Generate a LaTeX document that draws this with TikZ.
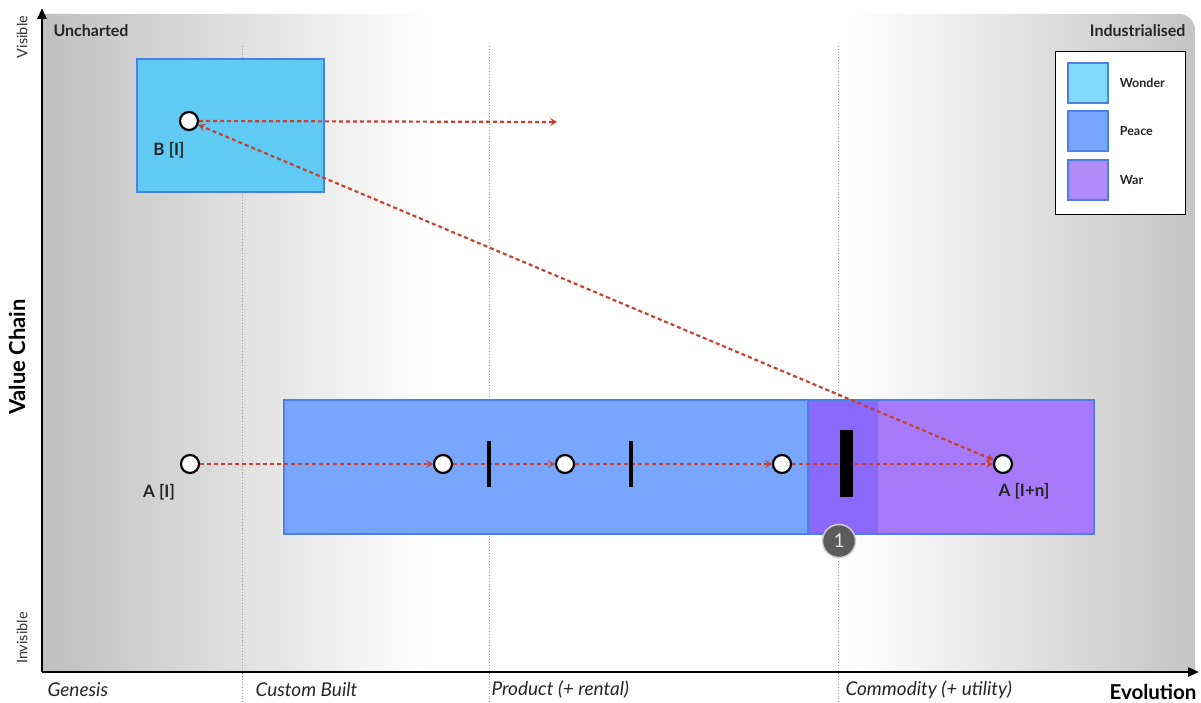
\documentclass[tikz,border=0pt]{standalone}
\usepackage{fontspec}
\setmainfont{Lato}
\usetikzlibrary{arrows.meta,positioning,calc}
\definecolor{wonder}{HTML}{5FCBF5}
\definecolor{wonderkey}{HTML}{82DBFC}
\definecolor{peace}{HTML}{78A6FC}
\definecolor{war}{HTML}{A67AFB}
\definecolor{warkey}{HTML}{B18AFA}
\definecolor{clash}{HTML}{8A68FB}
\definecolor{rim}{HTML}{4D80E4}
\definecolor{flowred}{HTML}{C8412F}
\tikzset{
  comp/.style={circle, draw, line width=2.2pt, minimum size=18pt, inner sep=0pt, fill=white},
  zone/.style={draw=rim, line width=2.5pt},
  key/.style={draw=rim, line width=2.5pt, minimum width=40pt, minimum height=40pt, inner sep=0pt},
  flow/.style={->, flowred, dash pattern=on 4pt off 3pt, line width=2.2pt},
  bar/.style={fill=black, inner sep=0pt, minimum width=4.5pt, minimum height=46pt},
  lbl/.style={font=\fontsize{17}{19}\selectfont\bfseries, text=black!85},
  keylbl/.style={font=\fontsize{12.5}{14}\selectfont\bfseries, text=black!85},
  stage/.style={font=\fontsize{19}{21}\selectfont\itshape, anchor=west, text=black!85},
  grid/.style={gray!75, dotted, line width=0.8pt},
  >={Stealth[length=7pt,width=8pt,inset=3pt]}
}

\begin{document}
\begin{tikzpicture}[x=1pt,y=-1pt]
  \useasboundingbox (0,0) rectangle (1201,703);
  % background of the map
  \begin{scope}
    \clip[rounded corners=16pt] (-100,14) rectangle (1195,800);
    \shade[left color=black!25, right color=white] (42,14) rectangle (430,672);
    \shade[left color=white, right color=black!23] (850,14) rectangle (1195,672);
  \end{scope}
  % stage boundaries
  \foreach \gx in {242,489,838} { \draw[grid] (\gx,46) -- (\gx,703); }
  % axes
  \coordinate (O) at (42,672);
  \coordinate (ytop) at (42,8);
  \coordinate (xend) at (1199,672);
  \draw[line width=2.5pt,-{Triangle[length=11pt,width=9pt]}] (O) -- (ytop);
  \draw[line width=2.5pt,-{Triangle[length=11pt,width=9pt]}] (O) -- (xend);
  \node[anchor=west,font=\fontsize{16}{18}\selectfont\bfseries,text=black!85] (unch) at (50,31) {Uncharted};
  \node[anchor=east,font=\fontsize{16}{18}\selectfont\bfseries,text=black!85] (indu) at (1189,31) {Industrialised};
  \node[rotate=90,font=\fontsize{14.5}{16}\selectfont,text=black!80] (vis) at (22,37) {Visible};
  \node[rotate=90,font=\fontsize{14.5}{16}\selectfont,text=black!80] (invis) at (22,638) {Invisible};
  \node[rotate=90,font=\fontsize{22}{24}\selectfont\bfseries] (vchain) at (17,357) {Value Chain};
  \node[stage] (genesis) at (44,690) {Genesis};
  \node[stage] (custom) at (252,690) {Custom Built};
  \node[stage] (product) at (488,690) {Product (+ rental)};
  \node[stage] (commod) at (842,690) {Commodity (+ utility)};
  \node[anchor=east,font=\fontsize{20.5}{22}\selectfont\bfseries] (evol) at (1200,692) {Evolution};
  % zones
  \draw[zone,fill=wonder] (137,59) rectangle (324,192);
  \fill[peace] (284,400) rectangle (808,534);
  \fill[war] (808,400) rectangle (1094,534);
  \fill[clash] (808,400) rectangle (878,534);
  \draw[zone] (284,400) rectangle (1094,534);
  \draw[zone] (808,400) -- (808,534);
  % components
  \node[comp] (b) at (189,121) {};
  \node[comp] (a0) at (190,464) {};
  \node[comp] (a1) at (443,464) {};
  \node[comp] (a2) at (565,464) {};
  \node[comp] (a3) at (782,464) {};
  \node[comp] (an) at (1003,464) {};
  \node[lbl] at ($(b)+(-20,29)$) {B [I]};
  \node[lbl] at ($(a0)+(-31,28)$) {A [I]};
  \node[lbl] at ($(an)+(21,27)$) {A [I+n]};
  % movement
  \coordinate (bend) at (557,122);
  \draw[flow] (b) -- (bend);
  \draw[flow] (a0) -- (a1);
  \draw[flow] (a1) -- (a2);
  \draw[flow] (a2) -- (a3);
  \draw[flow] (a3) -- (an);
  \draw[flow,<->] (an) -- (b);
  % inertia barriers
  \node[bar] (bar1) at (489,464) {};
  \node[bar] (bar2) at (631,464) {};
  \node[bar,minimum width=13pt,minimum height=67pt] (bar3) at (846,463) {};
  \node[circle,fill=black!64,draw=black!20,line width=1.5pt,minimum size=33pt,inner sep=0pt,
        text=white!90!black,font=\fontsize{19}{21}\selectfont] (mark) at (839,541) {1};
  % legend
  \node[draw=black,fill=white,line width=1pt,minimum width=130pt,minimum height=163pt] (legend) at (1120,133) {};
  \node[key,fill=wonderkey] (kw) at (1088,83) {};
  \node[key,fill=peace] (kp) at (1088,131) {};
  \node[key,fill=warkey] (kr) at (1088,180) {};
  \node[keylbl,right=7pt of kw] {Wonder};
  \node[keylbl,right=7pt of kp] {Peace};
  \node[keylbl,right=7pt of kr] {War};
\end{tikzpicture}
\end{document}
